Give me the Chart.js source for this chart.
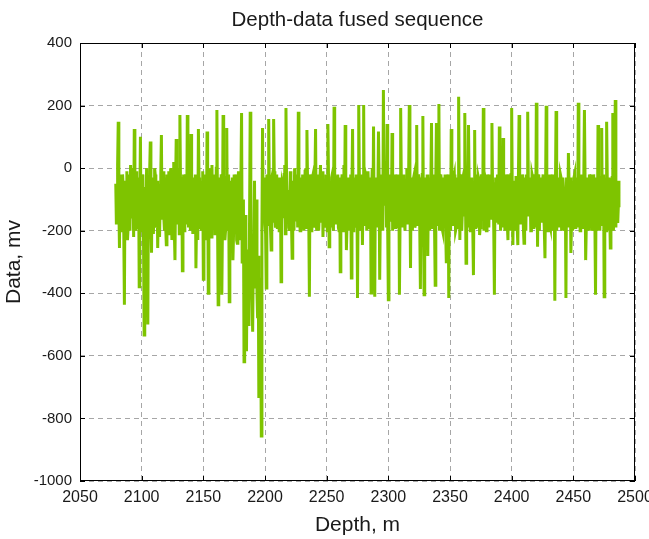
<html>
<head>
	<title>Depth-data fused sequence</title>
	<style>
		body { margin: 0; background: #fff; }
	</style>
</head>
<body>
	<canvas id="chart" width="649" height="539"></canvas>
	<script src="https://cdn.jsdelivr.net/npm/chart.js"></script>
	<script>
		// sampling grid of the trace (metres)
		const depthStart = 2079;
		const depthStep = 1;

		// trace values, one per metre from 2079 m
		const dataMv = [
			-50, -150, 148, -255, -20, -140, -60, -437, -90, -10,
			-190, -70, 10, -160, -80, 125, -200, -40, -120, -379,
			100, -150, -60, -533, -100, 0, -500, -170, 85, -270,
			-60, -130, -20, -180, -255, -50, -110, 106, -90, -160,
			-30, -245, -80, -10, -170, -60, -140, 20, -294, 93,
			-120, -40, 170, -150, -328, -20, -110, -60, 170, -190,
			-50, 109, -130, -30, -200, -320, -80, 125, -160, -40,
			-110, -355, -20, -150, 117, -400, -70, -180, 10, -120,
			-60, -190, 186, -437, -50, -130, -405, 170, -90, -200,
			128, -150, -427, -40, -160, -294, -20, -110, -230, -60,
			-180, -90, 176, -280, -619, -150, -585, -260, -450, 180,
			-320, -523, -200, -380, -100, -480, -735, -350, -856, 128,
			-60, -180, -383, -40, 157, -130, -262, -20, 157, -150,
			-60, -190, -30, -110, -363, -50, -160, 10, 192, -130,
			-70, -200, -40, -288, -100, 0, -170, -60, 180, -140,
			-30, -190, -80, -150, 0, 122, -120, -411, -60, -170,
			-20, -130, 125, -200, -70, -150, 10, -90, -220, -40,
			-160, -60, 141, -251, -100, -30, -180, 196, -80, -140,
			-20, -200, -331, -60, -150, 10, 138, -262, -90, -30,
			-170, -351, 125, -60, -140, -20, -415, 202, -110, -50,
			-246, 202, -130, -30, -180, -70, -160, -399, 0, 133,
			-411, -100, -30, 117, -357, -80, -150, 250, -120, -40,
			141, -421, -90, -171, 112, -60, -140, -20, -190, -70,
			-405, 192, -110, -40, -160, -80, 0, -150, 202, -319,
			-60, -130, -20, -180, 138, -90, -40, -386, -110, 167,
			-405, -60, -150, -281, -30, -110, 144, -180, -50, -374,
			144, -90, 205, -140, -40, -200, -80, -20, -299, -120,
			-415, -60, 125, -160, -30, -110, -190, -50, 228, -230,
			-80, -140, -20, 176, -304, -100, 138, -170, -50, -120,
			-342, 122, -90, -170, -30, -214, -60, -140, 192, -100,
			-40, -180, -70, -20, -150, 144, -90, -405, -30, -160,
			-60, 133, -200, -100, 96, -40, -170, -80, -230, -20,
			-130, 192, -246, -60, -150, -30, -246, 170, -90, -180,
			-40, -240, -110, -20, 180, -150, -70, -200, -30, -120,
			-60, 209, -251, -100, -30, -170, -50, -140, -288, 199,
			-120, -40, -180, -70, -20, -160, -424, 183, -100, -50,
			-190, -30, -130, -60, -200, -415, -80, 48, -150, -271,
			-40, -120, -20, -170, -70, 209, -130, -50, -190, -90,
			186, -294, -60, -150, -20, -110, -200, -40, -130, -405,
			-70, 138, -160, -30, 128, -100, -411, -50, 148, -140,
			-30, -255, -80, 176, -120, 218, -60, -175, -40
		];

		// in-between samples (half-metre), mostly the dense band of the trace
		const dataMvMid = [
			-180, 10, -120, -30, -200, -20, -210, -40, -170, -230,
			-20, -200, -150, 0, -220, -60, -10, -190, -30, -120,
			-200, -20, -230, -60, -150, -210, -40, -10, -180, -30,
			-210, 0, -190, -40, -140, -220, -20, -160, -10, -200,
			-190, -20, -210, -150, 0, -230, -30, -200, -60, -180,
			0, -210, -50, -30, -160, -200, -20, -180, -60, 10,
			-200, -40, -210, -80, -20, -170, -230, -30, -190, -200,
			-10, -180, -60, -230, -30, -100, 0, -220, -180, -20,
			-210, 0, -150, -30, -220, -20, -180, -40, -230, -30,
			-200, -20, -190, -60, -30, -210, -180, -20, -240, -10,
			-230, -20, -300, -100, -380, -250, -330, -500, -150, -200,
			-420, -300, -40, -250, -400, -280, -600, -500, -200, -150,
			-30, -210, -20, -180, -60, -200, -30, -170, -10, -190,
			-20, -140, -200, -30, -180, -60, -20, -210, -40, -170,
			-190, -10, -180, -40, -200, -150, -20, -190, -30, -200,
			-160, -20, -200, -10, -190, -40, -170, -20, -200, -30,
			-190, -30, -180, -20, -200, -40, -170, -10, -120, -190,
			-20, -200, -30, -60, -190, -20, -200, -40, -180, -30,
			-190, -30, -150, -20, -200, -160, -20, -180, -30, -200,
			-20, -60, -200, -30, -190, -40, -120, -30, -200, -20,
			-80, -180, -20, -200, -10, -190, -30, -60, -180, -200,
			-30, -190, -100, -20, -150, -20, -200, -60, -20, -190,
			-200, -30, -20, -150, -200, -20, -190, -40, -180, -20,
			-180, -30, -190, -20, -200, -40, -180, -10, -100, -30,
			-200, -30, -190, -50, -180, -20, -200, -30, -20, -190,
			-30, -190, -20, -60, -200, -40, -190, -20, -200, -30,
			-180, -30, -200, -20, -190, -30, -160, -200, -40, -20,
			-40, -200, -30, -180, -20, -200, -30, -160, -60, -20,
			-200, -30, -150, -60, -30, -190, -40, -200, -30, -200,
			-60, -190, -20, -190, -40, -190, -20, -160, -200, -30,
			-200, -20, -190, -160, -40, -60, -200, -50, -170, -20,
			-180, -40, -20, -190, -120, -200, -20, -180, -60, -200,
			-20, -80, -40, -200, -30, -190, -20, -180, -30, -20,
			-190, -30, -200, -150, -40, -30, -200, -20, -190, -20,
			-190, -30, -20, -200, -30, -160, -20, -200, -60, -40,
			-200, -20, -190, -40, -200, -30, -60, -200, -30, -190,
			-20, -200, -30, -190, -60, -30, -190, -40, -30, -180,
			-200, -30, -190, -30, -190, -60, -200, -20, -190, -30,
			-30, -190, -30, -200, -60, -20, -190, -20, -180, -30,
			-200, -20, -200, -30, -180, -20, -60, -200, -30, -200,
			-30, -180, -30, -200, -20, -190, -40, -120
		];

		const xTicks = [2050, 2100, 2150, 2200, 2250, 2300, 2350, 2400, 2450, 2500];
		const yTicks = [-1000, -800, -600, -400, -200, 0, 200, 400];

		const fontFamily = '"Liberation Sans", Arial, sans-serif';
		const textColor = '#1a1a1a';

		const points = [];
		dataMv.forEach((v, i) => {
			points.push({ x: depthStart + i * depthStep, y: v });
			if (i < dataMvMid.length) {
				points.push({ x: depthStart + (i + 0.5) * depthStep, y: dataMvMid[i] });
			}
		});

		// solid frame round the plot with short inward tick marks on every side
		const framePlugin = {
			id: 'frame',
			afterDraw(chart) {
				const { ctx, chartArea: a, scales } = chart;
				ctx.save();
				ctx.strokeStyle = '#000';
				ctx.lineWidth = 1;
				ctx.strokeRect(a.left + 0.5, a.top + 0.5, a.right - a.left - 1, a.bottom - a.top - 1);
				ctx.beginPath();
				xTicks.forEach(t => {
					const px = Math.round(scales.x.getPixelForValue(t)) + 0.5;
					ctx.moveTo(px, a.bottom); ctx.lineTo(px, a.bottom - 5);
					ctx.moveTo(px, a.top); ctx.lineTo(px, a.top + 5);
				});
				yTicks.forEach(t => {
					const py = Math.round(scales.y.getPixelForValue(t)) + 0.5;
					ctx.moveTo(a.left, py); ctx.lineTo(a.left + 5, py);
					ctx.moveTo(a.right, py); ctx.lineTo(a.right - 5, py);
				});
				ctx.stroke();
				ctx.restore();
			}
		};

		new Chart(document.getElementById('chart'), {
			type: 'line',
			data: {
				datasets: [{
					label: 'Data',
					data: points,
					borderColor: 'rgb(126, 196, 0)',
					borderWidth: 3,
					pointRadius: 0,
					tension: 0,
					fill: false
				}]
			},
			options: {
				responsive: false,
				animation: false,
				layout: { padding: { left: 0, right: 14, top: 0, bottom: 0 } },
				plugins: {
					legend: { display: false },
					tooltip: { enabled: false },
					title: {
						display: true,
						fullSize: false,
						text: 'Depth-data fused sequence',
						color: textColor,
						font: { family: fontFamily, size: 20.5, weight: 'normal' },
						padding: { top: 8, bottom: 10.4 }
					}
				},
				scales: {
					x: {
						type: 'linear',
						min: 2050,
						max: 2500,
						afterBuildTicks: s => { s.ticks = xTicks.map(v => ({ value: v })); },
						afterFit: s => { s.height = 58; s.paddingLeft = 0; s.paddingRight = 0; },
						ticks: {
							color: textColor,
							font: { family: fontFamily, size: 16 },
							padding: 7,
							maxRotation: 0,
							autoSkip: false,
							callback: v => String(v)
						},
						grid: {
							color: '#a6a6a6',
							lineWidth: 1,
							drawTicks: false
						},
						border: { display: false, dash: [5, 4] },
						title: {
							display: true,
							text: 'Depth, m',
							color: textColor,
							font: { family: fontFamily, size: 21 },
							padding: { top: 0, bottom: 1 }
						}
					},
					y: {
						min: -1000,
						max: 400,
						afterBuildTicks: s => { s.ticks = yTicks.map(v => ({ value: v })); },
						afterFit: s => { s.width = 80; },
						ticks: {
							color: textColor,
							font: { family: fontFamily, size: 15 },
							padding: 8,
							callback: v => String(v)
						},
						grid: {
							color: '#a6a6a6',
							lineWidth: 1,
							drawTicks: false
						},
						border: { display: false, dash: [5, 4] },
						title: {
							display: true,
							text: 'Data, mv',
							color: textColor,
							font: { family: fontFamily, size: 21 },
							padding: { top: 2, bottom: 0 }
						}
					}
				}
			},
			plugins: [framePlugin]
		});
	</script>
</body>
</html>
